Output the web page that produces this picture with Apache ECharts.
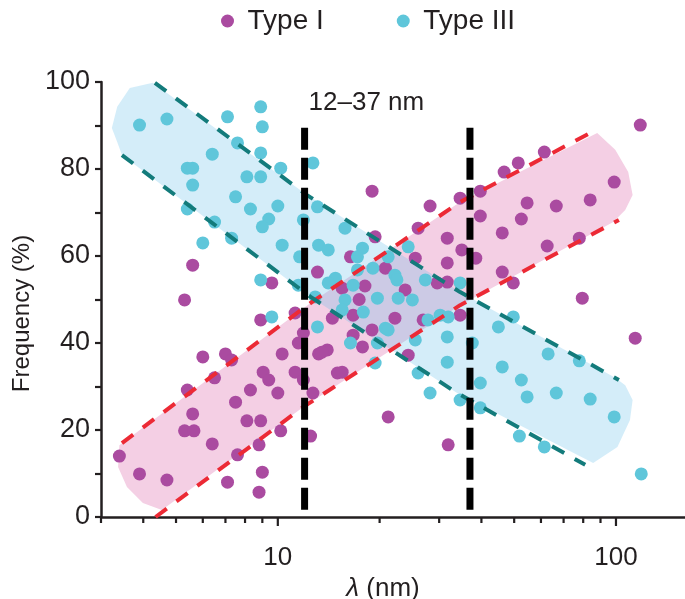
<!DOCTYPE html>
<html><head><meta charset="utf-8">
<script src="https://cdn.jsdelivr.net/npm/echarts@6/dist/echarts.min.js"></script>
<style>html,body{margin:0;padding:0;background:#fff}#c{width:685px;height:599px}</style>
</head><body><div id="c"></div>
<script>
// ---- data (λ in nm, frequency in %) ----
const seriesNames = ['Type I', 'Type III'];
const typeI = [[3.4,14.0],[3.9,9.9],[4.7,8.5],[5.3,49.9],[5.6,57.9],[5.3,19.8],[5.65,19.8],[5.4,29.2],[5.6,23.7],[6.0,36.8],[6.4,16.8],[6.5,32.0],[7.0,37.5],[7.3,36.1],[7.1,8.0],[7.5,26.4],[7.6,14.3],[8.1,22.1],[8.3,29.2],[8.8,16.6],[8.8,5.7],[8.9,22.1],[8.9,45.3],[9.0,10.3],[9.05,33.3],[9.4,31.5],[9.6,53.8],[10.0,28.5],[10.2,19.8],[10.3,37.5],[11.25,46.9],[11.25,33.3],[11.5,40.0],[11.9,42.3],[11.9,31.5],[12.5,18.6],[12.7,28.5],[13.1,56.3],[13.2,37.5],[14.0,38.4],[15.0,33.1],[19.0,74.9],[19.4,64.4],[16.4,59.8],[20.8,57.2],[18.1,53.1],[15.5,52.6],[17.4,50.0],[14.5,45.7],[16.7,46.4],[19.0,43.0],[16.7,41.8],[17.8,39.1],[13.5,37.9],[15.5,33.3],[26.0,66.4],[31.7,64.1],[25.5,59.5],[29.6,53.8],[23.8,52.2],[22.2,45.7],[26.9,45.3],[34.6,46.4],[24.3,37.2],[21.2,23.0],[31.9,16.6],[28.2,71.5],[34.6,73.3],[39.7,74.9],[39.7,69.2],[46.1,65.3],[31.7,58.4],[35.0,61.4],[31.7,54.0],[38.5,59.5],[46.1,56.3],[49.7,53.8],[46.7,79.3],[51.4,81.4],[61.4,83.9],[118,90.1],[98.8,77.0],[54.6,72.2],[66.6,71.5],[83.9,72.9],[52.5,68.5],[62.6,62.3],[77.9,64.1],[79.5,50.3],[114,41.1]];
const typeIII = [[3.9,90.1],[4.7,91.5],[7.1,92.0],[8.9,94.3],[9.0,89.7],[7.6,86.0],[8.9,83.7],[6.4,83.4],[5.4,80.2],[5.6,80.2],[5.6,76.3],[8.1,78.2],[8.9,78.2],[10.2,80.2],[12.7,81.4],[7.5,73.6],[5.4,70.8],[8.3,70.8],[10.0,71.5],[6.5,67.8],[9.4,68.5],[9.0,66.7],[11.9,68.3],[13.1,71.3],[6.0,63.0],[7.3,64.1],[10.3,62.5],[13.2,62.5],[14.1,61.4],[11.6,59.8],[8.9,54.5],[9.6,46.0],[15.8,66.4],[17.8,61.8],[17.2,59.8],[21.2,59.8],[19.1,57.2],[17.2,56.8],[14.8,54.9],[14.1,53.8],[16.7,53.3],[11.5,53.3],[12.9,50.6],[15.8,49.9],[19.7,50.3],[15.5,47.6],[17.9,47.1],[13.1,43.7],[20.8,43.4],[16.4,40.0],[19.7,40.0],[19.4,35.4],[24.3,62.1],[22.2,55.6],[22.5,54.5],[27.3,54.5],[22.7,50.3],[25.0,49.9],[34.6,53.8],[27.8,45.3],[30.2,46.4],[31.9,46.0],[21.2,43.0],[25.5,40.7],[31.7,41.4],[37.6,40.0],[31.7,35.6],[26.0,33.1],[28.2,28.5],[39.7,30.8],[39.7,25.1],[34.6,26.9],[44.9,43.7],[49.7,46.0],[46.1,34.5],[52.5,31.5],[54.6,27.6],[66.6,28.5],[83.9,27.1],[63.0,37.5],[77.9,35.9],[98.8,23.0],[51.8,18.6],[61.4,16.1],[118.8,9.9]];

// shaded band outlines (nm, %)
const typeIBand = [[3.4,16.5],[12.5,49.2],[34.6,72.4],[88.0,88.3],[99.5,84.4],[108.7,79.3],[112,74.0],[106.5,70.6],[98.2,67.8],[34.6,48.7],[11.9,25.3],[4.54,1.6],[3.99,3.2],[3.58,6.9],[3.37,11.5]];
const typeIIIBand = [[4.27,99.8],[12.2,74.0],[34.6,51.7],[99.5,32.0],[106.5,30.3],[112,26.9],[110,22.3],[101,16.1],[85.6,12.4],[33.9,28.5],[12.5,50.6],[3.46,83.2],[3.35,86.2],[3.23,89.4],[3.35,94.3],[3.65,98.6]];
// dashed band boundaries
const typeIUpper = [[3.46,17.0],[12.5,49.2],[34.6,72.4],[83.9,88.3]];
const typeILower = [[4.35,0],[11.9,25.3],[34.6,48.7],[102,68.3]];
const typeIIIUpper = [[4.33,99.8],[12.2,74.0],[34.6,51.7],[102,31.5]];
const typeIIILower = [[3.46,83.2],[12.5,50.6],[33.9,28.5],[81.1,12.0]];
// range markers
const rangeBounds = [12, 37];
const rangeTop = 89.5;
const rangeLabel = '12–37 nm';
const rangeLabelY = 95.2;
// axes
const xMin = 3, xMax = 160;
const xMajorTicks = [10, 100];
const xMinorTicks = [3,4,5,6,7,8,9,20,30,40,50,60,70,80,90];
const yMin = 0, yMax = 100, yTickStep = 10, yLabelStep = 20;

// ---- chart ----
const FONT = '"Liberation Sans", Arial, Helvetica, sans-serif';
const INK = '#231f20';
const chart = echarts.init(document.getElementById('c'), null, {renderer: 'canvas'});

function bandSeries(pts, fill, z) {
  return {
    type: 'custom', silent: true, z: z, data: [[10, 50]],
    renderItem: function (params, api) {
      return {type: 'polygon', shape: {points: pts.map(function (p) { return api.coord(p); })}, style: {fill: fill}};
    }
  };
}
function fitSeries(pts, color) {
  return {
    type: 'line', silent: true, z: 4, data: pts, showSymbol: false, symbol: 'none',
    lineStyle: {color: color, width: 4, type: [14, 12]}
  };
}

const series = [
  bandSeries(typeIBand, '#f4cfe4', 1),
  bandSeries(typeIIIBand, 'rgba(100,190,235,0.28)', 1),
  {name: seriesNames[0], type: 'scatter', z: 3, data: typeI, symbolSize: 13,
   itemStyle: {color: '#aa4ba0', opacity: 1}},
  {name: seriesNames[1], type: 'scatter', z: 3, data: typeIII, symbolSize: 13,
   itemStyle: {color: '#5fc6da', opacity: 1}},
  fitSeries(typeIUpper, '#ec2a35'),
  fitSeries(typeILower, '#ec2a35'),
  fitSeries(typeIIIUpper, '#137b7b'),
  fitSeries(typeIIILower, '#137b7b')
];
rangeBounds.forEach(function (b) {
  series.push({type: 'line', silent: true, z: 5, data: [[b, rangeTop], [b, 0]], showSymbol: false, symbol: 'none',
    lineStyle: {color: '#000', width: 7, type: [22, 8]}});
});
// range annotation text, anchored at the lower bound
series.push({type: 'custom', silent: true, z: 6, clip: false, data: [[rangeBounds[0], rangeLabelY]],
  renderItem: function (params, api) {
    const p = api.coord([api.value(0), api.value(1)]);
    return {type: 'text', x: p[0] + 4, y: p[1],
      style: {text: rangeLabel, fill: INK, font: '26px ' + FONT, align: 'left', verticalAlign: 'middle'}};
  }});
// x-axis ticks (decade + minor log ticks)
series.push({type: 'custom', silent: true, z: 6, clip: false,
  data: xMajorTicks.concat(xMinorTicks).map(function (v) { return [v, yMin]; }),
  renderItem: function (params, api) {
    const v = api.value(0);
    const p = api.coord([v, yMin]);
    const len = xMajorTicks.indexOf(v) >= 0 ? 9 : 6;
    return {type: 'line', shape: {x1: p[0], y1: p[1], x2: p[0], y2: p[1] + len}, style: {stroke: INK, lineWidth: 2.2}};
  }});

chart.setOption({
  animation: false,
  backgroundColor: '#fff',
  textStyle: {fontFamily: FONT},
  legend: {
    data: seriesNames, top: 2, left: 216, icon: 'circle', itemWidth: 30, itemHeight: 13, itemGap: 73,
    textStyle: {fontSize: 28, color: INK, fontFamily: FONT}
  },
  grid: {left: 101, top: 82, width: 584, height: 435, containLabel: false, outerBoundsMode: 'none'},
  xAxis: {
    type: 'log', logBase: 10, min: xMin, max: xMax,
    name: '{i|λ} (nm)', nameLocation: 'middle', nameGap: 36,
    nameTextStyle: {fontSize: 26, color: INK, fontFamily: FONT, padding: [0, 20, 0, 0],
      rich: {i: {fontStyle: 'italic', fontSize: 26, color: INK, fontFamily: FONT}}},
    axisLine: {show: true, lineStyle: {color: INK, width: 2.5}},
    axisTick: {show: false},
    minorTick: {show: false},
    splitLine: {show: false},
    axisLabel: {
      margin: 28, fontSize: 26, color: INK, fontFamily: FONT,
      formatter: function (v) {
        const l = Math.log10(v);
        return (Math.abs(l - Math.round(l)) < 1e-6 && xMajorTicks.indexOf(Math.round(v)) >= 0) ? String(Math.round(v)) : '';
      }
    }
  },
  yAxis: {
    type: 'value', min: yMin, max: yMax, interval: yTickStep,
    name: 'Frequency (%)', nameLocation: 'middle', nameGap: 43, nameRotate: 90,
    nameTextStyle: {fontSize: 24, color: INK, fontFamily: FONT, padding: [0, 28, 0, 0]},
    axisLine: {show: true, lineStyle: {color: INK, width: 2.5}},
    axisTick: {show: true, inside: false, length: 6, lineStyle: {color: INK, width: 2.2}},
    splitLine: {show: false},
    axisLabel: {
      margin: 11, fontSize: 27, color: INK, fontFamily: FONT,
      formatter: function (v) { return v % yLabelStep === 0 ? String(v) : ''; }
    }
  },
  series: series
});
</script></body></html>
